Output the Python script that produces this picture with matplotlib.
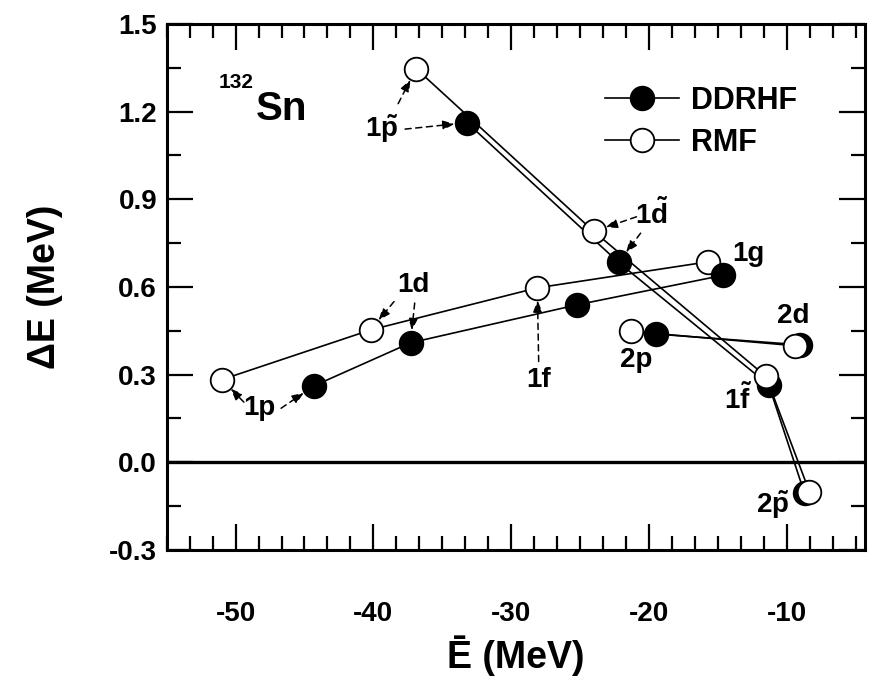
import numpy as np
import matplotlib.pyplot as plt
from matplotlib.ticker import MultipleLocator

plt.rcParams['font.family'] = ['Liberation Sans', 'DejaVu Sans']
plt.rcParams['font.weight'] = 'bold'
plt.rcParams['mathtext.fontset'] = 'custom'
plt.rcParams['mathtext.rm'] = 'Liberation Sans:bold'
plt.rcParams['mathtext.it'] = 'Liberation Sans:bold'
plt.rcParams['mathtext.bf'] = 'Liberation Sans:bold'

# DDRHF (filled) and RMF (open) points, grouped by the lines joining them
ddrhf_main_x = [-44.3, -37.3, -25.2, -14.6]      # 1p, 1d, 1f, 1g
ddrhf_main_y = [0.262, 0.409, 0.539, 0.640]
rmf_main_x = [-51.0, -40.2, -28.1, -15.7]
rmf_main_y = [0.283, 0.453, 0.597, 0.686]

ddrhf_2_x = [-19.5, -9.0]                          # 2p, 2d
ddrhf_2_y = [0.439, 0.402]
rmf_2_x = [-21.3, -9.4]
rmf_2_y = [0.448, 0.399]

ddrhf_ps_x = [-33.2, -22.2, -11.3, -8.7]           # 1p~, 1d~, 1f~, 2p~
ddrhf_ps_y = [1.162, 0.684, 0.265, -0.106]
rmf_ps_x = [-36.9, -24.0, -11.5, -8.35]
rmf_ps_y = [1.347, 0.790, 0.294, -0.100]

# level labels: text, position
labels = ['1p', r'1$\tilde{\mathrm{p}}$', r'1$\tilde{\mathrm{d}}$', '1d', '1f', '1g', '2d', '2p',
          r'1$\tilde{\mathrm{f}}$', r'2$\tilde{\mathrm{p}}$']
label_x = [-48.3, -39.4, -19.8, -37.1, -28.0, -12.8, -9.5, -20.9, -13.5, -11.0]
label_y = [0.185, 1.140, 0.850, 0.605, 0.280, 0.714, 0.502, 0.350, 0.215, -0.145]

# dashed arrows: start (near label) -> target point
arrow_start_x = [-49.4, -46.7, -38.2, -37.7, -20.9, -20.6, -38.5, -37.0, -28.0]
arrow_start_y = [0.206, 0.185, 1.227, 1.140, 0.840, 0.784, 0.550, 0.545, 0.345]
arrow_end_x = [rmf_main_x[0], ddrhf_main_x[0], rmf_ps_x[0], ddrhf_ps_x[0], rmf_ps_x[1], ddrhf_ps_x[1],
               rmf_main_x[1], ddrhf_main_x[1], rmf_main_x[2]]
arrow_end_y = [rmf_main_y[0], ddrhf_main_y[0], rmf_ps_y[0], ddrhf_ps_y[0], rmf_ps_y[1], ddrhf_ps_y[1],
               rmf_main_y[1], ddrhf_main_y[1], rmf_main_y[2]]

fig = plt.figure(figsize=(8.73, 6.82), dpi=100)
ax = fig.add_axes([0.191, 0.1935, 0.8, 0.7715])

ms = 17
filled = dict(color='black', lw=1.2, marker='o', ms=ms, mfc='black', mec='black', mew=1.3)
hollow = dict(color='black', lw=1.2, marker='o', ms=ms, mfc='white', mec='black', mew=1.3)

ax.axhline(0, color='black', lw=2.4, zorder=1)

ax.plot(rmf_main_x, rmf_main_y, zorder=2, **hollow)
ax.plot(ddrhf_main_x, ddrhf_main_y, zorder=3, **filled)
ax.plot(ddrhf_2_x, ddrhf_2_y, zorder=4, **filled)
ax.plot(rmf_2_x, rmf_2_y, zorder=5, **hollow)
ax.plot(ddrhf_ps_x, ddrhf_ps_y, zorder=6, **filled)
ax.plot(rmf_ps_x, rmf_ps_y, zorder=7, **hollow)

for t, x, y in zip(labels, label_x, label_y):
    ax.text(x, y, t, fontsize=20, fontweight='bold', ha='center', va='center', zorder=8)

for x0, y0, x1, y1 in zip(arrow_start_x, arrow_start_y, arrow_end_x, arrow_end_y):
    ax.annotate('', xy=(x1, y1), xytext=(x0, y0), zorder=8,
                arrowprops=dict(arrowstyle='-|>,head_length=0.7,head_width=0.28', color='black',
                                lw=1.1, linestyle=(0, (4, 3)), shrinkA=0, shrinkB=9))

ax.text(-51.2, 1.28, '132', fontsize=15, fontweight='bold', ha='left', va='baseline')
ax.text(-48.5, 1.17, 'Sn', fontsize=29, fontweight='bold', ha='left', va='baseline')

# legend
l1, = ax.plot([], [], **filled)
l2, = ax.plot([], [], **hollow)
ax.legend([l1, l2], ['DDRHF', 'RMF'], loc='upper left', bbox_to_anchor=(0.628, 0.882), frameon=False,
          fontsize=22, handlelength=2.4, handletextpad=0.4, labelspacing=0.38, borderpad=0,
          borderaxespad=0)

ax.set_xlim(-55, -4.3)
ax.set_ylim(-0.3, 1.5)
ax.xaxis.set_major_locator(MultipleLocator(10))
ax.xaxis.set_minor_locator(MultipleLocator(10 / 6))
ax.yaxis.set_major_locator(MultipleLocator(0.3))
ax.yaxis.set_minor_locator(MultipleLocator(0.15))
ax.xaxis.set_major_formatter(plt.FuncFormatter(lambda v, p: f'{v:.0f}'))
ax.yaxis.set_major_formatter(plt.FuncFormatter(lambda v, p: f'{v:.1f}'))
ax.tick_params(which='both', direction='in', top=True, right=True, width=1.6)
ax.tick_params(which='major', length=19)
ax.tick_params(which='minor', length=10)
ax.tick_params(axis='x', which='major', labelsize=20, pad=37)
ax.tick_params(axis='y', which='major', labelsize=20, pad=7)
for s in ax.spines.values():
    s.set_linewidth(2.2)
for lab in ax.get_xticklabels() + ax.get_yticklabels():
    lab.set_fontweight('bold')

ax.set_xlabel('Ē (MeV)', fontsize=27, fontweight='bold')
ax.set_ylabel('ΔE (MeV)', fontsize=27, fontweight='bold')
ax.xaxis.set_label_coords(0.5, -0.2)
ax.xaxis.label.set_va('center')
ax.yaxis.set_label_coords(-0.175, 0.5)
ax.yaxis.label.set_va('center')

fig.savefig('out.png', dpi=100)
